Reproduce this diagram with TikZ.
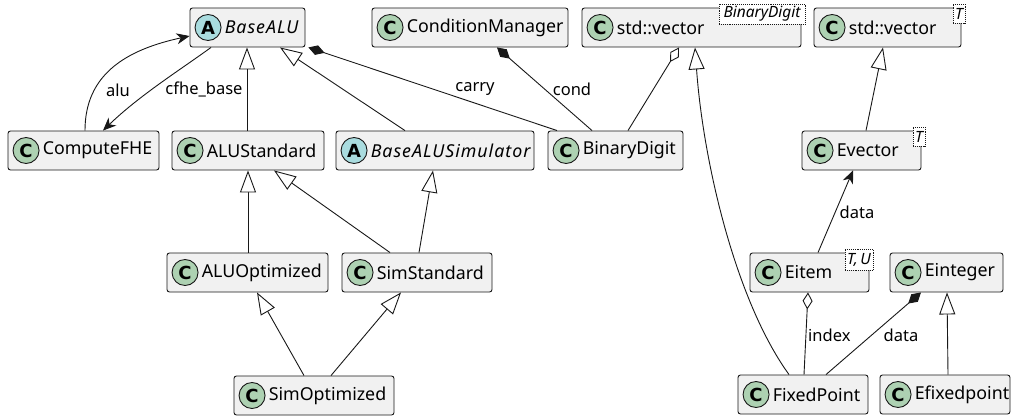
\documentclass[tikz,border=0pt]{standalone}
\usepackage{fontspec}
\setmainfont{Noto Sans}
\newfontfamily\iconfont{DejaVu Sans}
\usetikzlibrary{arrows.meta,fit,calc}
\definecolor{boxfill}{HTML}{F1F1F1}
\definecolor{linec}{HTML}{181818}
\definecolor{cgreen}{HTML}{ADD1B2}
\definecolor{acyan}{HTML}{A9DCDF}
\tikzset{
  clsbox/.style={draw=linec, fill=boxfill, rounded corners=2.5pt, line width=0.9pt, inner sep=0pt},
  circC/.style={circle, draw=linec, line width=0.9pt, fill=cgreen, minimum size=26pt, inner sep=0pt, font=\iconfont\fontsize{18}{18}\selectfont\bfseries},
  circA/.style={circC, fill=acyan},
  clstext/.style={inner sep=0pt, anchor=west, font=\fontsize{17.8}{20}\selectfont},
  abstext/.style={clstext, font=\fontsize{17.8}{20}\selectfont\itshape\addfontfeatures{LetterSpace=5.5}},
  tmpl/.style={draw=linec, fill=white, densely dotted, line width=0.9pt, inner sep=0pt},
  conn/.style={draw=linec, line width=0.9pt},
  inh/.style={conn, -{Triangle[open, length=22pt, width=16pt, fill=white]}},
  comp/.style={conn, {Diamond[length=17pt, width=10pt, fill=linec]}-},
  aggr/.style={conn, {Diamond[open, length=17pt, width=10pt, fill=white]}-},
  assoc/.style={conn, -{Stealth[length=13pt, width=11pt, inset=4pt]}},
  lbl/.style={inner sep=0pt, font=\fontsize{16.5}{18}\selectfont}
}
% #1 name, #2 left, #3 top, #4 right, #5 bottom, #6 circle style, #7 letter, #8 text style, #9 text
\newcommand\umlcls[9]{%
  \coordinate (#1-nw) at (#2,#3);
  \coordinate (#1-se) at (#4,#5);
  \node[clsbox, fit=(#1-nw)(#1-se)] (#1) {};
  \node[#6] (#1-i) at ([xshift=18.5pt]#1.west) {#7};
  \node[#8] (#1-n) at ([xshift=35pt]#1.west) {#9};
}
\newcommand\umltmpl[6]{%
  \coordinate (#1-nw) at (#2,#3);
  \coordinate (#1-se) at (#4,#5);
  \node[tmpl, fit=(#1-nw)(#1-se)] (#1) {};
  \node[inner sep=0pt, font=\fontsize{15.5}{17}\selectfont\itshape] (#1-t) at (#1.center) {#6};
}
\begin{document}
\begin{tikzpicture}[x=1pt, y=-1pt]
\path[use as bounding box] (0,0) rectangle (1016,417);
% row 1
\umlcls{BaseALU}{190}{8}{305}{47}{circA}{A}{abstext}{BaseALU}
\umlcls{CondMgr}{372}{8}{568}{47}{circC}{C}{clstext}{ConditionManager}
\umlcls{VecBD}{582}{8}{801}{47}{circC}{C}{clstext}{std::vector}
\umltmpl{VecBDt}{719}{4}{805}{24}{BinaryDigit}
\umlcls{VecT}{814}{8}{961}{47}{circC}{C}{clstext}{std::vector}
\umltmpl{VecTt}{953}{4}{965}{23}{T}
% row 2
\umlcls{ComputeFHE}{8}{131}{159}{170}{circC}{C}{clstext}{ComputeFHE}
\umlcls{ALUStandard}{172}{131}{324}{170}{circC}{C}{clstext}{ALUStandard}
\umlcls{BaseALUSim}{336}{131}{534}{170}{circA}{A}{abstext}{BaseALUSimulator}
\umlcls{BinaryDigit}{548}{131}{683}{170}{circC}{C}{clstext}{BinaryDigit}
\umlcls{Evector}{802}{131}{921}{170}{circC}{C}{clstext}{Evector}
\umltmpl{Evectort}{913}{127}{925}{146}{T}
% row 3
\umlcls{ALUOptimized}{167}{253}{328}{292}{circC}{C}{clstext}{ALUOptimized}
\umlcls{SimStandard}{342}{253}{492}{292}{circC}{C}{clstext}{SimStandard}
\umlcls{Eitem}{750}{253}{869}{292}{circC}{C}{clstext}{Eitem}
\umltmpl{Eitemt}{845}{249}{873}{270}{T,\,U}
\umlcls{Einteger}{890}{253}{1003}{292}{circC}{C}{clstext}{Einteger}
% row 4
\umlcls{SimOptimized}{234}{376}{394}{415}{circC}{C}{clstext}{SimOptimized}
\umlcls{FixedPoint}{738}{375}{868}{414}{circC}{C}{clstext}{FixedPoint}
\umlcls{Efixedpoint}{880}{375}{1010}{414}{circC}{C}{clstext}{Efixedpoint}

% connectors
\draw[assoc] (ComputeFHE.north -| 85,0) .. controls (85,75) and (125,50) .. (BaseALU.west |- 0,36);
\draw[assoc] (BaseALU.south -| 211,0) .. controls (180,70) and (140,95) .. (ComputeFHE.north -| 103,0);
\node[lbl] (l-alu) at (118,90) {alu};
\node[lbl] (l-cfhe) at (204,89) {cfhe\_base};

\draw[inh] (ALUStandard.north -| 247,0) -- (BaseALU.south -| 247,0);
\draw[inh] (BaseALUSim.north -| 405,0) -- (BaseALU.south -| 280,0);
\draw[comp] (BaseALU.south east) ++(3,0) coordinate (c1) (c1) -- (BinaryDigit.north -| 557,0);
\node[lbl] (l-carry) at (475,89) {carry};
\draw[comp] (CondMgr.south -| 497,0) -- (BinaryDigit.north -| 592,0);
\node[lbl] (l-cond) at (572,89) {cond};
\draw[aggr] (VecBD.south -| 679,0) -- (BinaryDigit.north -| 628,0);
\draw[inh] (FixedPoint.north -| 789,0) .. controls (735,300) and (703,160) .. (VecBD.south -| 695,0);
\draw[inh] (Evector.north -| 866,0) -- (VecT.south -| 883,0);
\draw[assoc] (Eitem.north -| 818,0) -- (Evector.south -| 853,0);
\node[lbl] (l-data1) at (857,212) {data};

\draw[inh] (ALUOptimized.north -| 248,0) -- (ALUStandard.south -| 248,0);
\draw[inh] (SimStandard.north -| 390,0) -- (ALUStandard.south -| 274,0);
\draw[inh] (SimStandard.north -| 419,0) -- (BaseALUSim.south -| 433,0);
\draw[inh] (SimOptimized.north -| 304,0) -- (ALUOptimized.south -| 257,0);
\draw[inh] (SimOptimized.north -| 331,0) -- (SimStandard.south -| 401,0);

\draw[aggr] (Eitem.south -| 808,0) -- (FixedPoint.north -| 804,0);
\node[lbl, anchor=west] (l-index) at (808,335) {index};
\draw[comp] (Einteger.south -| 921,0) -- (FixedPoint.north -| 826,0);
\node[lbl] (l-data2) at (901,335) {data};
\draw[inh] (Efixedpoint.north -| 948,0) -- (Einteger.south -| 947,0);
\end{tikzpicture}
\end{document}
